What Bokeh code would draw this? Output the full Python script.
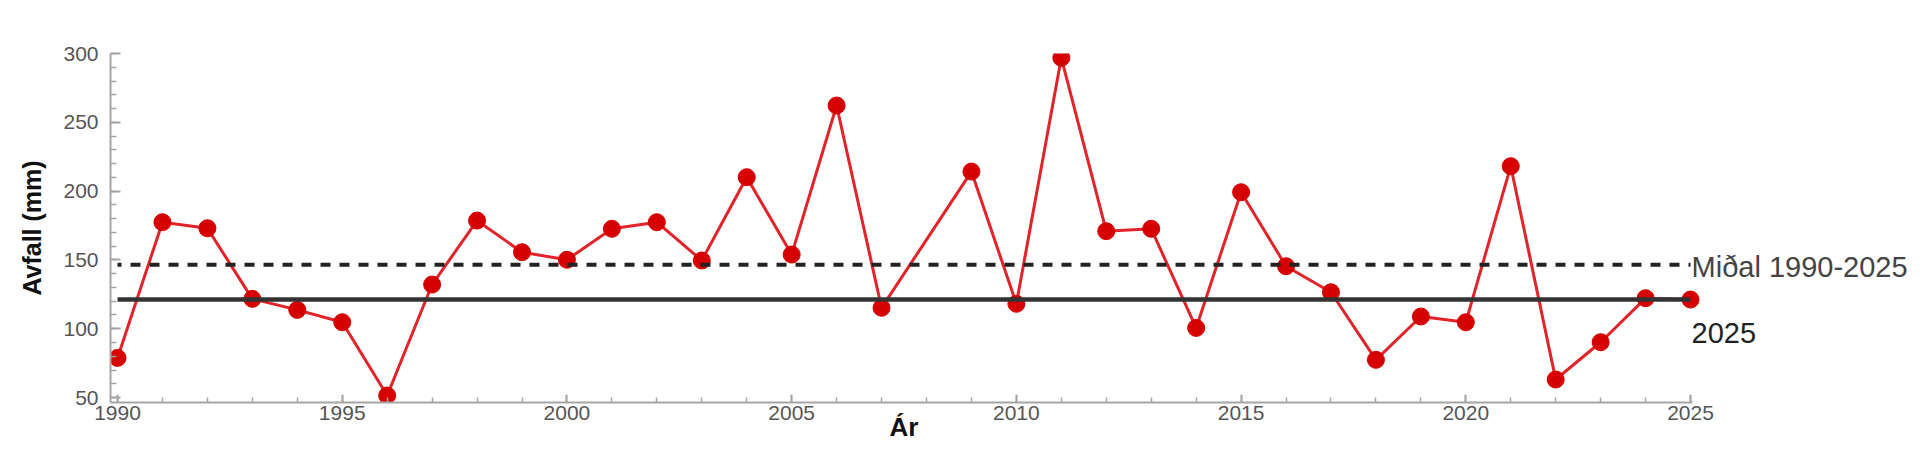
from bokeh.plotting import figure
from bokeh.models import Range1d, Label, FixedTicker, LinearAxis
from bokeh.embed import file_html
from bokeh.resources import INLINE
import numpy as np

years = [1990, 1991, 1992, 1993, 1994, 1995, 1996, 1997, 1998, 1999,
         2000, 2001, 2002, 2003, 2004, 2005, 2006, 2007, 2009, 2010,
         2011, 2012, 2013, 2014, 2015, 2016, 2017, 2018, 2019, 2020,
         2021, 2022, 2023, 2024, 2025]
avfall = [78.8, 177.4, 173.0, 121.7, 113.7, 104.7, 51.5, 132.1, 178.6, 155.6,
          150.1, 172.6, 177.4, 149.6, 210.1, 153.9, 262.2, 115.2, 214.2, 118.1,
          296.9, 170.9, 172.6, 100.6, 199.2, 145.4, 126.5, 77.4, 108.9, 104.7,
          218.1, 63.1, 90.2, 122.2, 121.2]
y_ticks = [50, 100, 150, 200, 250, 300]
x_ticks = [1990, 1995, 2000, 2005, 2010, 2015, 2020, 2025]
x_title = "Ár"
y_title = "Avfall (mm)"
mean_label = "Miðal 1990-2025"
current_label = "2025"

mean_val = float(np.mean(avfall))
current_val = avfall[-1]

p = figure(width=1920, height=451, output_backend="svg", toolbar_location=None,
           x_range=Range1d(1989.844, 2030.117), y_range=Range1d(46.4, 300),
           min_border_left=110, min_border_right=0, min_border_top=53,
           min_border_bottom=49)
p.outline_line_color = None
p.xgrid.visible = False
p.ygrid.visible = False
p.background_fill_color = "white"
p.border_fill_color = "white"

# data series
p.line(years, avfall, line_color="#e3232a", line_width=3)
p.scatter(years, avfall, size=17, fill_color="#d60000", line_color="#d60000")

# reference lines
p.line([years[0], years[-1]], [mean_val, mean_val], line_color="#222222",
       line_width=4, line_dash="10 9", line_dash_offset=6)
p.line([years[0], years[-1]], [current_val, current_val], line_color="#333333",
       line_width=4.5)

for ax in (p.xaxis[0], p.yaxis[0]):
    ax.axis_line_color = "#a5a5a5"
    ax.axis_line_width = 2
    ax.major_tick_line_color = "#a5a5a5"
    ax.minor_tick_line_color = "#a5a5a5"
    ax.major_tick_line_width = 2
    ax.minor_tick_line_width = 1.5
    ax.major_tick_out = 0
    ax.minor_tick_out = 0
    ax.major_label_text_font = "Liberation Sans"
    ax.major_label_text_font_size = "21px"
    ax.major_label_text_color = "#555555"

p.xaxis[0].bounds = (1989.844, 2025.05)
p.yaxis.ticker = FixedTicker(ticks=y_ticks, minor_ticks=list(range(50, 301, 10)))
p.xaxis[0].ticker = FixedTicker(ticks=x_ticks, minor_ticks=list(range(1990, 2026, 1)))
p.yaxis.major_tick_in = 10
p.yaxis.minor_tick_in = 6
p.xaxis[0].major_tick_in = 8
p.xaxis[0].minor_tick_in = 5
p.yaxis.major_label_standoff = 12
p.xaxis[0].major_label_standoff = 3

p.yaxis.axis_label = y_title
p.yaxis.axis_label_text_font = "Liberation Sans"
p.yaxis.axis_label_text_font_style = "bold"
p.yaxis.axis_label_text_font_size = "25px"
p.yaxis.axis_label_text_color = "#111111"
p.yaxis.axis_label_standoff = 14

# x-axis title, centred under the 1990-2025 span
x_mid = (years[0] + years[-1]) / 2
title_axis = LinearAxis(ticker=FixedTicker(ticks=[x_mid]),
                        major_label_overrides={x_mid: x_title},
                        axis_line_color=None, major_tick_line_color=None,
                        minor_tick_line_color=None,
                        major_label_standoff=-17,
                        major_label_text_font="Liberation Sans",
                        major_label_text_font_style="bold",
                        major_label_text_font_size="26px",
                        major_label_text_color="#111111")
p.add_layout(title_axis, "below")

p.add_layout(Label(x=years[-1], y=mean_val, x_offset=1, y_offset=-2,
                   text=mean_label, text_align="left", text_baseline="alphabetic",
                   text_font="Liberation Sans", text_font_size="29px",
                   text_color="#444444"))
p.add_layout(Label(x=years[-1], y=current_val, x_offset=1, y_offset=-33,
                   text=current_label, text_align="left", text_baseline="alphabetic",
                   text_font="Liberation Sans", text_font_size="29px",
                   text_color="#222222"))

open("out.html", "w").write(file_html(p, INLINE))
